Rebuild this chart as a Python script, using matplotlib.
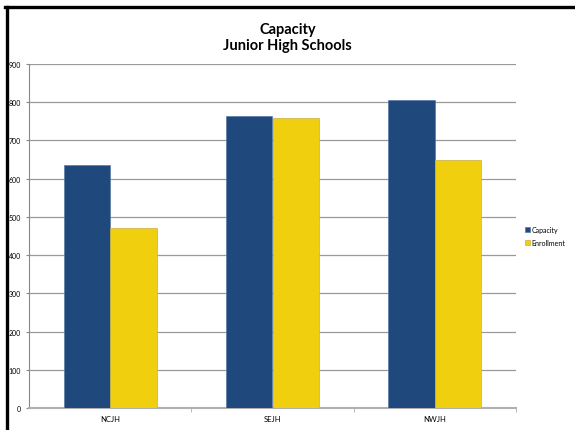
import matplotlib
matplotlib.use('Agg')
import matplotlib.pyplot as plt
from matplotlib.lines import Line2D
import numpy as np

schools = ['NCJH', 'SEJH', 'NWJH']
capacity = [636, 764, 806]
enrollment = [470, 760, 650]

plt.rcParams['font.family'] = ['Lato', 'DejaVu Sans']

fig = plt.figure(figsize=(5.75, 4.31), dpi=100)
ax = fig.add_axes([29 / 575, 22 / 431, 487 / 575, 344 / 431])

x = np.arange(len(schools))
w = 0.286
ax.bar(x - w / 2, capacity, w, color='#1F497D', edgecolor='#5a7aa5', linewidth=0.5,
       label='Capacity', zorder=3)
ax.bar(x + w / 2, enrollment, w, color='#F0D00E', edgecolor='#c8b040', linewidth=0.5,
       label='Enrollment', zorder=3)

ax.set_xlim(-0.5, 2.5)
ax.set_ylim(0, 900)
ax.set_yticks(range(0, 901, 100))
ax.tick_params(axis='y', labelsize=5, length=2.2, color='#888888', pad=3.5)
ax.yaxis.grid(True, color='#999999', linewidth=0.9, zorder=0)

ax.set_xticks(x)
ax.set_xticklabels(schools)
ax.set_xticks([0.5, 1.5, 2.5], minor=True)
ax.tick_params(axis='x', which='major', length=0, labelsize=5.5, pad=5)
ax.tick_params(axis='x', which='minor', length=3, color='#b0b0b0')

for s in ['top', 'right']:
    ax.spines[s].set_visible(False)
ax.spines['left'].set_color('#888888')
ax.spines['left'].set_linewidth(0.8)
ax.spines['bottom'].set_color('#b0b0b0')
ax.spines['bottom'].set_linewidth(1.5)

fig.text(0.5, 1 - 38 / 431, 'Capacity\nJunior High Schools', ha='center', va='center',
         fontsize=10.5, fontweight='bold', linespacing=1.2)

ax.legend(loc='center left', bbox_to_anchor=(1.005, 0.5), frameon=False, fontsize=5,
          handlelength=0.8, handleheight=0.8, handletextpad=0.2, labelspacing=0.9)

# frame from the original slide
fig.add_artist(Line2D([6.5 / 575, 6.5 / 575], [0, 1 - 7.5 / 431], color='black', linewidth=2.4,
                      transform=fig.transFigure))
fig.add_artist(Line2D([5 / 575, 1], [1 - 7.5 / 431, 1 - 7.5 / 431], color='black', linewidth=2.4,
                      transform=fig.transFigure))

fig.savefig('out.png', dpi=100)
